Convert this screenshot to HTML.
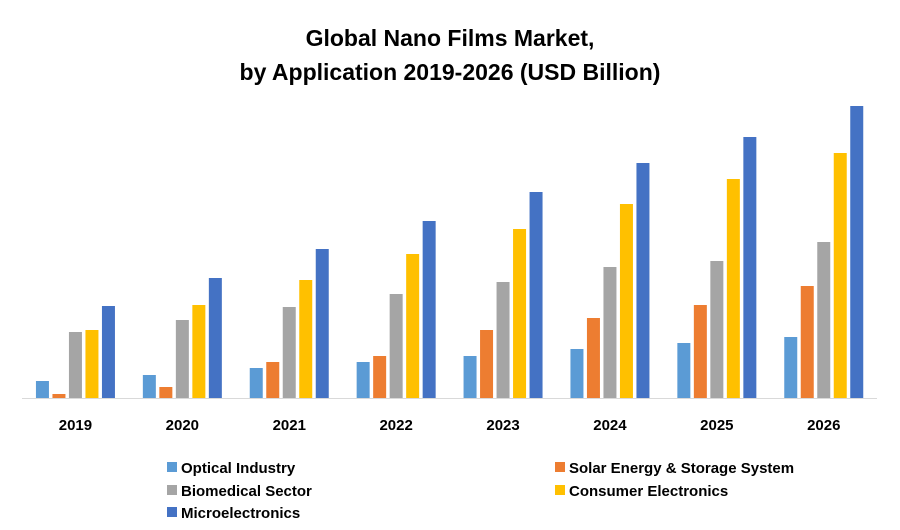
<!DOCTYPE html>
<html><head><meta charset="utf-8"><style>
body{margin:0;background:#fff;font-family:"Liberation Sans",Arial,sans-serif}
</style></head><body>
<svg width="900" height="525" xmlns="http://www.w3.org/2000/svg">
<text x="450" y="46" text-anchor="middle" font-size="23" font-weight="bold" fill="#000">Global Nano Films Market,</text>
<text x="450" y="80" text-anchor="middle" font-size="23" font-weight="bold" fill="#000">by Application 2019-2026 (USD Billion)</text>
<g id="bars"></g>
<line x1="22" y1="398.5" x2="877" y2="398.5" stroke="#d9d9d9" stroke-width="1"/>
<g id="xlabels"></g>
<g id="legend"></g>
</svg>
<script>
const categories=["2019","2020","2021","2022","2023","2024","2025","2026"];
const optical=[1.7,2.3,3.0,3.6,4.2,4.9,5.5,6.1];
const solar=[0.4,1.1,3.6,4.2,6.8,8.0,9.3,11.2];
const biomedical=[6.6,7.8,9.1,10.4,11.6,13.1,13.7,15.6];
const consumer=[6.8,9.3,11.8,14.4,16.9,19.4,21.9,24.5];
const micro=[9.2,12.0,14.9,17.7,20.6,23.5,26.1,29.2];
const seriesNames=["Optical Industry","Solar Energy & Storage System","Biomedical Sector","Consumer Electronics","Microelectronics"];
const series=[optical,solar,biomedical,consumer,micro];
const colors=["#5b9bd5","#ed7d31","#a5a5a5","#ffc000","#4472c4"];
const NS="http://www.w3.org/2000/svg";
const base=398, scale=10, x0=22, groupW=106.9, barW=13, step=16.5;
function yScale(v){return base-v*scale;}
function xScale(i,s){return x0+i*groupW+groupW/2-(5*step-3.5)/2+s*step;}
const bars=document.getElementById('bars');
series.forEach((arr,s)=>arr.forEach((v,i)=>{
 const r=document.createElementNS(NS,'rect');
 r.setAttribute('x',xScale(i,s));r.setAttribute('y',yScale(v));
 r.setAttribute('width',barW);r.setAttribute('height',base-yScale(v));
 r.setAttribute('fill',colors[s]);
 
 
 bars.appendChild(r);
}));
const xl=document.getElementById('xlabels');
categories.forEach((c,i)=>{
 const t=document.createElementNS(NS,'text');
 t.setAttribute('x',x0+i*groupW+groupW/2);t.setAttribute('y',430);
 t.setAttribute('text-anchor','middle');t.setAttribute('font-size','15');t.setAttribute('font-weight','bold');
 t.textContent=c;
 
 
 xl.appendChild(t);
});
const lg=document.getElementById('legend');
const pos=[[167,468],[555,468],[167,491],[555,491],[167,513]];
seriesNames.forEach((n,s)=>{
 const g=document.createElementNS(NS,'g');
 
 
 const r=document.createElementNS(NS,'rect');
 r.setAttribute('x',pos[s][0]);r.setAttribute('y',pos[s][1]-6);r.setAttribute('width',10);r.setAttribute('height',10);r.setAttribute('fill',colors[s]);
 const t=document.createElementNS(NS,'text');
 t.setAttribute('x',pos[s][0]+14);t.setAttribute('y',pos[s][1]+5);t.setAttribute('font-size','15');t.setAttribute('font-weight','bold');
 t.textContent=n;
 g.appendChild(r);g.appendChild(t);lg.appendChild(g);
});
</script>
</body></html>
